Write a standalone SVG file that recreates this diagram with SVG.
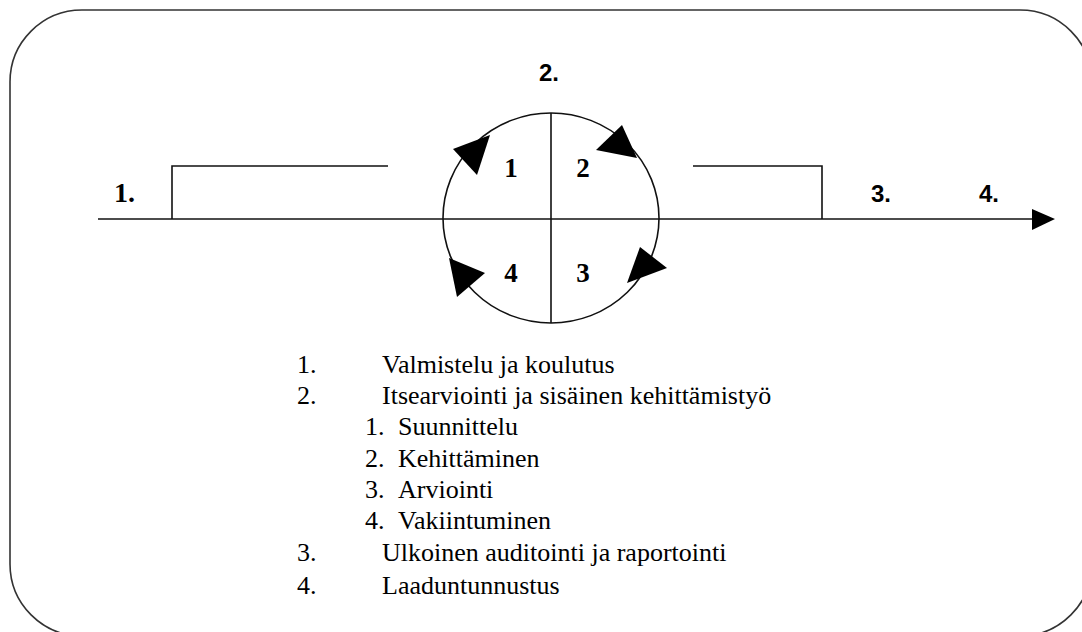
<svg xmlns="http://www.w3.org/2000/svg" width="1082" height="632" viewBox="0 0 1082 632">
  <style>
    .frame { fill: none; stroke: #333; stroke-width: 1.6; }
    .ln { fill: none; stroke: #111; stroke-width: 1.6; }
    .head { fill: #000; stroke: none; }
    .stage { font-family: "Liberation Sans", Arial, sans-serif; font-weight: bold; font-size: 24px; fill: #000; }
    .stage-serif { font-family: "Liberation Serif", "Times New Roman", serif; font-weight: bold; font-size: 28px; fill: #000; }
    .quad { font-family: "Liberation Serif", "Times New Roman", serif; font-weight: bold; font-size: 27px; fill: #000; text-anchor: middle; }
    .item { font-family: "Liberation Serif", "Times New Roman", serif; font-size: 26px; fill: #000; }
  </style>

  <!-- rounded outer frame, running off the right and bottom edges -->
  <rect class="frame" x="10" y="10" width="1082" height="626" rx="72" ry="72"/>

  <g id="connectors">
    <!-- time axis with arrow -->
    <line class="ln" x1="98" y1="219" x2="1036" y2="219"/>
    <polygon class="head" points="1055,219 1032,209 1032,230"/>
    <!-- phase brackets -->
    <path class="ln" d="M172,219 V166 H388"/>
    <path class="ln" d="M693,166 H822 V219"/>
  </g>

  <g id="cycle">
    <ellipse class="ln" cx="551" cy="218" rx="108" ry="105"/>
    <line class="ln" x1="551" y1="113" x2="551" y2="323"/>
    <polygon class="head" points="453,149 490,135 477,175"/>
    <polygon class="head" points="622,125 596,150 637,158"/>
    <polygon class="head" points="640,247 627,283 667,268"/>
    <polygon class="head" points="449,258 485,273 457,297"/>
    <text class="quad" x="511" y="177">1</text>
    <text class="quad" x="583" y="177">2</text>
    <text class="quad" x="583" y="282">3</text>
    <text class="quad" x="511" y="282">4</text>
  </g>

  <g id="stage-1"><text class="stage-serif" x="114" y="202">1.</text></g>
  <g id="stage-2"><text class="stage" x="539" y="81">2.</text></g>
  <g id="stage-3"><text class="stage" x="871" y="202">3.</text></g>
  <g id="stage-4"><text class="stage" x="979" y="202">4.</text></g>

  <g id="legend">
    <text class="item" x="297" y="373">1.</text>
    <text class="item" x="382" y="373">Valmistelu ja koulutus</text>
    <text class="item" x="297" y="404">2.</text>
    <text class="item" x="382" y="404">Itsearviointi ja sisäinen kehittämistyö</text>
    <text class="item" x="365" y="435">1.</text>
    <text class="item" x="398" y="435">Suunnittelu</text>
    <text class="item" x="365" y="467">2.</text>
    <text class="item" x="398" y="467">Kehittäminen</text>
    <text class="item" x="365" y="498">3.</text>
    <text class="item" x="398" y="498">Arviointi</text>
    <text class="item" x="365" y="529">4.</text>
    <text class="item" x="398" y="529">Vakiintuminen</text>
    <text class="item" x="297" y="561">3.</text>
    <text class="item" x="382" y="561">Ulkoinen auditointi ja raportointi</text>
    <text class="item" x="297" y="594">4.</text>
    <text class="item" x="382" y="594">Laaduntunnustus</text>
  </g>
</svg>
